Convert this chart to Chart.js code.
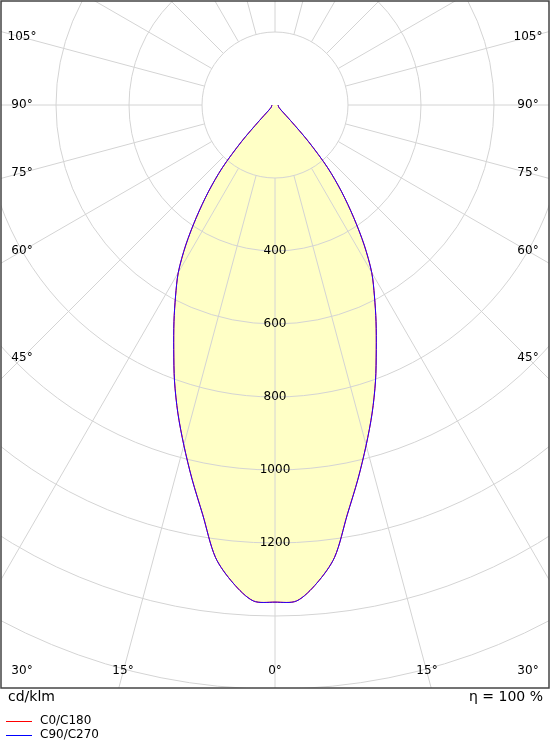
<!DOCTYPE html>
<html>
<head>
<meta charset="utf-8">
<script src="https://cdn.jsdelivr.net/npm/chart.js@4/dist/chart.umd.min.js"></script>
<style>
  html, body { margin: 0; padding: 0; background: #fff; }
  #wrap { width: 550px; height: 750px; }
</style>
</head>
<body>
<div id="wrap"><canvas id="chart"></canvas></div>
<script>
// gamma angle from nadir (deg) and luminous intensity (cd/klm)
const gammaAngles = [0, 2.5, 5, 7.5, 10, 12.5, 15, 17.5, 20, 22.5, 25, 27.5, 30, 32.5, 35, 37.5, 40, 42.5, 45, 50, 60, 70, 80, 90]
const c0c180 = [1362, 1360, 1315, 1250, 1140, 1050, 965, 885, 805, 725, 655, 590, 530, 455, 375, 300, 225, 135, 60, 22, 12, 10, 9, 8]
const c90c270 = [1362, 1360, 1315, 1250, 1140, 1050, 965, 885, 805, 725, 655, 590, 530, 455, 375, 300, 225, 135, 60, 22, 12, 10, 9, 8]
const ringValues = [200, 400, 600, 800, 1000, 1200, 1400, 1600, 1800, 2000]
const ringLabels = ['400', '600', '800', '1000', '1200']
const sideAngles = [105, 90, 75, 60, 45]
const bottomAngles = [30, 15, 0, 15, 30]

// mirror the half curve into a full polar outline
function toPoints(values) {
  const pts = []
  for (let i = gammaAngles.length - 1; i >= 0; i--) {
    const a = -gammaAngles[i] * Math.PI / 180
    pts.push({ x: values[i] * Math.sin(a), y: -values[i] * Math.cos(a) })
  }
  for (let i = 1; i < gammaAngles.length; i++) {
    const a = gammaAngles[i] * Math.PI / 180
    pts.push({ x: values[i] * Math.sin(a), y: -values[i] * Math.cos(a) })
  }
  return pts
}

const FONT = '"DejaVu Sans", Verdana, sans-serif'

const polarGrid = {
  id: 'polarGrid',
  beforeDatasetDraw(chart, args) {
    if (args.index !== 1) return
    const { ctx, chartArea: ca, scales: { x, y } } = chart
    const cx = x.getPixelForValue(0), cy = y.getPixelForValue(0)
    const k = x.getPixelForValue(1) - cx
    ctx.save()
    ctx.beginPath()
    ctx.rect(ca.left, ca.top, ca.right - ca.left, ca.bottom - ca.top)
    ctx.clip()
    ctx.strokeStyle = '#d4d4d4'
    ctx.lineWidth = 1
    ringValues.forEach(v => {
      ctx.beginPath()
      ctx.arc(cx, cy, v * k, 0, Math.PI * 2)
      ctx.stroke()
    })
    for (let a = 0; a < 360; a += 15) {
      const r = a * Math.PI / 180
      ctx.beginPath()
      ctx.moveTo(cx + Math.sin(r) * 200 * k, cy + Math.cos(r) * 200 * k)
      ctx.lineTo(cx + Math.sin(r) * 3000 * k, cy + Math.cos(r) * 3000 * k)
      ctx.stroke()
    }
    ctx.restore()
  },
  afterDraw(chart) {
    const { ctx, chartArea: ca, scales: { x, y } } = chart
    const cx = x.getPixelForValue(0), cy = y.getPixelForValue(0)
    ctx.save()
    ctx.strokeStyle = '#444'
    ctx.lineWidth = 1.5
    ctx.strokeRect(ca.left, ca.top, ca.right - ca.left, ca.bottom - ca.top)
    ctx.fillStyle = '#000'
    ctx.font = '12px ' + FONT
    ctx.textAlign = 'center'
    ctx.textBaseline = 'middle'
    ringLabels.forEach(t => ctx.fillText(t, cx, y.getPixelForValue(-Number(t))))
    const lx = 22, rx = 528
    sideAngles.forEach(a => {
      const py = a === 90 ? cy : cy + (cx - lx) / Math.tan(a * Math.PI / 180)
      ctx.fillText(a + '°', lx, py)
      ctx.fillText(a + '°', rx, py)
    })
    const bx = [22, 123, cx, 427, 528]
    bottomAngles.forEach((a, i) => ctx.fillText(a + '°', bx[i], 671))
    ctx.font = '14px ' + FONT
    ctx.textAlign = 'left'
    ctx.fillText('cd/klm', 8, 697)
    ctx.textAlign = 'right'
    ctx.fillText('η = 100 %', 543, 697)
    ctx.font = '12px ' + FONT
    ctx.textAlign = 'left'
    const legendItems = [['C0/C180', '#ff0000', 721], ['C90/C270', '#0000ff', 735]]
    legendItems.forEach(item => {
      ctx.fillStyle = item[1]
      ctx.fillRect(6, item[2], 26, 1)
      ctx.fillStyle = '#000'
      ctx.fillText(item[0], 40, item[2])
    })
    ctx.restore()
  }
}

// 0.365 px per cd/klm, centre at (275, 105), plot frame (1,1)-(549,688)
const PX = 0.365
new Chart('chart', {
  type: 'scatter',
  data: {
    datasets: [
      { data: toPoints(c0c180), showLine: true, fill: 'shape', backgroundColor: '#ffffc6', borderWidth: 0, pointRadius: 0, tension: 0.3, order: 3 },
      { data: toPoints(c0c180), showLine: true, borderColor: '#ff0000', borderWidth: 1, pointRadius: 0, tension: 0.3, order: 2 },
      { data: toPoints(c90c270), showLine: true, borderColor: '#2200ff', borderWidth: 1, pointRadius: 0, tension: 0.3, order: 1 }
    ]
  },
  options: {
    responsive: true,
    maintainAspectRatio: false,
    animation: false,
    layout: { padding: { left: 1, right: 1, top: 1, bottom: 62 } },
    plugins: { legend: { display: false }, tooltip: { enabled: false } },
    scales: {
      x: { display: false, min: -274 / PX, max: 274 / PX },
      y: { display: false, min: -583 / PX, max: 104 / PX }
    }
  },
  plugins: [polarGrid]
})
</script>
</body>
</html>
